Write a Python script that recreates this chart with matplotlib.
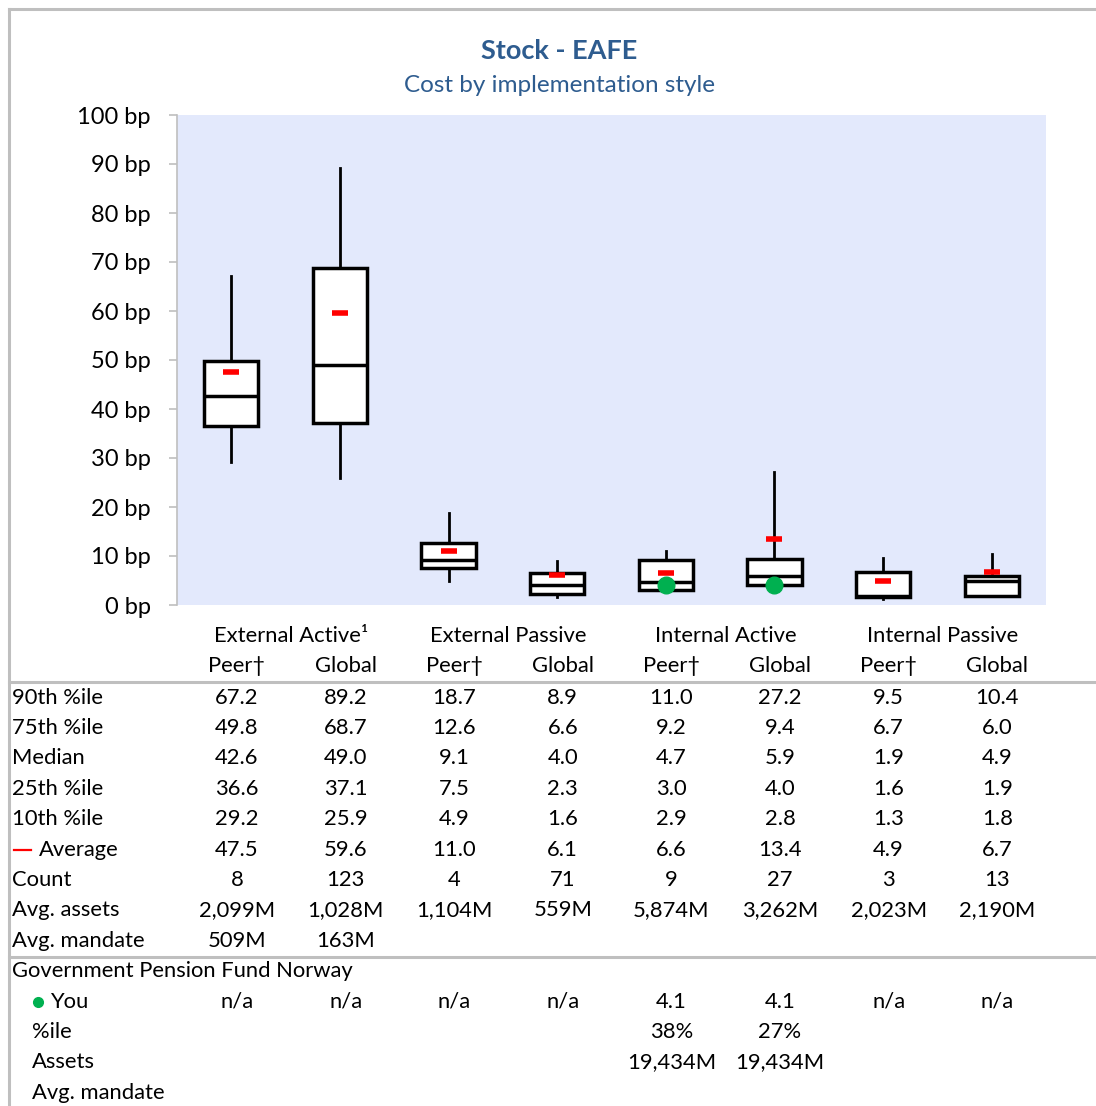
import matplotlib
matplotlib.use("Agg")
import matplotlib.pyplot as plt
from matplotlib.lines import Line2D

plt.rcParams['font.family'] = ['Lato', 'DejaVu Sans']

groups = ["External Active¹", "External Passive", "Internal Active", "Internal Passive"]
subs = ["Peer†", "Global"] * 4
p90 = [67.2, 89.2, 18.7, 8.9, 11.0, 27.2, 9.5, 10.4]
p75 = [49.8, 68.7, 12.6, 6.6, 9.2, 9.4, 6.7, 6.0]
med = [42.6, 49.0, 9.1, 4.0, 4.7, 5.9, 1.9, 4.9]
p25 = [36.6, 37.1, 7.5, 2.3, 3.0, 4.0, 1.6, 1.9]
p10 = [29.2, 25.9, 4.9, 1.6, 2.9, 2.8, 1.3, 1.8]
avg = [47.5, 59.6, 11.0, 6.1, 6.6, 13.4, 4.9, 6.7]
count = [8, 123, 4, 71, 9, 27, 3, 13]
avg_assets = ["2,099M", "1,028M", "1,104M", "559M", "5,874M", "3,262M", "2,023M", "2,190M"]
avg_mandate = ["509M", "163M", "", "", "", "", "", ""]
you = [None, None, None, None, 4.1, 4.1, None, None]
you_pct = ["", "", "", "", "38%", "27%", "", ""]
you_assets = ["", "", "", "", "19,434M", "19,434M", "", ""]
you_mandate = [""] * 8
yticks = [0, 10, 20, 30, 40, 50, 60, 70, 80, 90, 100]

W, H = 1096, 1106
fig = plt.figure(figsize=(W / 100, H / 100), dpi=100)

def fx(px):
    return px / W

def fy(py):
    return 1 - py / H

title_col = "#2E5C8F"
grey = "#BFBFBF"

# frame lines
fig.add_artist(Line2D([fx(9), 1], [fy(9), fy(9)], color=grey, lw=2.2))
fig.add_artist(Line2D([fx(9), fx(9)], [fy(9), 0], color=grey, lw=2.2))

fig.text(fx(559), fy(51), "Stock - EAFE", ha="center", va="center",
         fontsize=19.5, fontweight="bold", color=title_col)
fig.text(fx(559), fy(86), "Cost by implementation style", ha="center", va="center",
         fontsize=17.5, color=title_col)

# box plot area
ax = fig.add_axes([fx(177), fy(605), fx(1046) - fx(177), fy(115) - fy(605)])
ax.set_facecolor("#E3E9FC")
n = len(p90)
pos = list(range(n))
stats = []
for i in range(n):
    stats.append(dict(med=med[i], q1=p25[i], q3=p75[i], whislo=p10[i], whishi=p90[i],
                      mean=avg[i], fliers=[]))
ax.bxp(stats, positions=pos, widths=0.5, patch_artist=True, showcaps=False,
       showfliers=False, showmeans=True,
       boxprops=dict(facecolor="white", edgecolor="black", linewidth=2.5),
       medianprops=dict(color="black", linewidth=2.5),
       whiskerprops=dict(color="black", linewidth=2),
       meanprops=dict(marker="_", markeredgecolor="red", markersize=11, markeredgewidth=4),
       zorder=3)
for i, v in enumerate(you):
    if v is not None:
        ax.plot(pos[i], v, "o", color="#00B050", markersize=12, zorder=5)

ax.set_xlim(-0.5, n - 0.5)
ax.set_ylim(0, 100)
ax.set_yticks(yticks)
ax.set_yticklabels([f"{t} bp" for t in yticks], fontsize=17)
ax.set_xticks([])
for s in ["top", "right", "bottom"]:
    ax.spines[s].set_visible(False)
ax.spines["left"].set_color(grey)
ax.spines["left"].set_linewidth(1.2)
ax.tick_params(axis="y", length=6, width=1.2, color=grey, pad=13)

# table below (text placed on its baseline so every row lines up)
col_x = [237 + 108.6 * i for i in range(n)]
fs = 15.8
va = "baseline"
bl = 6.5  # baseline sits this many px below the row centre

def put(x, y, s, ha="center"):
    fig.text(fx(x), fy(y + bl), s, ha=ha, va=va, fontsize=fs)

for g in range(4):
    cx = (col_x[2 * g] + col_x[2 * g + 1]) / 2
    put(cx, 636, groups[g])
for i in range(n):
    put(col_x[i], 666, subs[i])

fig.add_artist(Line2D([fx(9), 1], [fy(682), fy(682)], color=grey, lw=2.2))
fig.add_artist(Line2D([fx(9), 1], [fy(957), fy(957)], color=grey, lw=2.2))

rows = [
    ("90th %ile", [f"{v:.1f}" for v in p90]),
    ("75th %ile", [f"{v:.1f}" for v in p75]),
    ("Median", [f"{v:.1f}" for v in med]),
    ("25th %ile", [f"{v:.1f}" for v in p25]),
    ("10th %ile", [f"{v:.1f}" for v in p10]),
    ("Average", [f"{v:.1f}" for v in avg]),
    ("Count", [str(v) for v in count]),
    ("Avg. assets", avg_assets),
    ("Avg. mandate", avg_mandate),
]
step = 30.4
y0 = 697
for r, (label, vals) in enumerate(rows):
    yy = y0 + r * step
    if label == "Average":
        fig.add_artist(Line2D([fx(14), fx(31)], [fy(yy + 1), fy(yy + 1)], color="red", lw=1.6))
        put(39, yy, label, ha="left")
    else:
        put(12, yy, label, ha="left")
    for i, v in enumerate(vals):
        put(col_x[i], yy, v)

yy = y0 + 9 * step
put(12, yy, "Government Pension Fund Norway", ha="left")

you_rows = [
    ("You", [f"{v:.1f}" if v is not None else "n/a" for v in you]),
    ("%ile", you_pct),
    ("Assets", you_assets),
    ("Avg. mandate", you_mandate),
]
for r, (label, vals) in enumerate(you_rows):
    yy = y0 + (10 + r) * step
    if label == "You":
        fig.add_artist(Line2D([fx(38)], [fy(yy + 1)], marker="o", color="#00B050",
                              markersize=7, lw=0))
        put(50, yy, label, ha="left")
    else:
        put(32, yy, label, ha="left")
    for i, v in enumerate(vals):
        put(col_x[i], yy, v)

fig.savefig("out.png", dpi=100)
